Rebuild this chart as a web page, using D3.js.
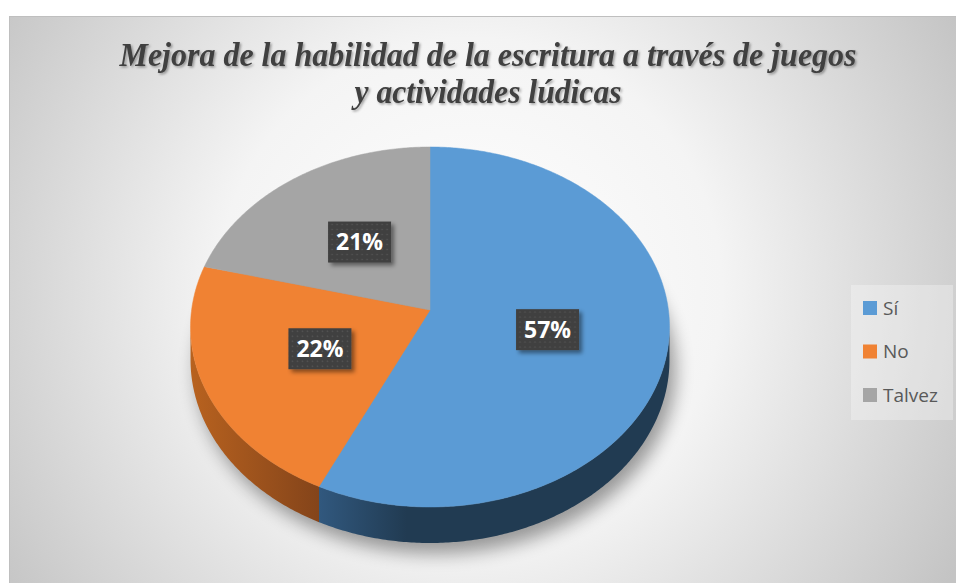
<!DOCTYPE html>
<html>
<head>
<meta charset="utf-8">
<script src="https://cdn.jsdelivr.net/npm/d3@7"></script>
<style>
  html, body { margin: 0; padding: 0; background: #fff; }
  svg { display: block; }
</style>
</head>
<body>
<div id="chart"></div>
<script>
'use strict';

var categories = ['Sí', 'No', 'Talvez'];
var values = [57, 22, 21];
var labels = ['57%', '22%', '21%'];
var titleLines = ['Mejora de la habilidad de la escritura a través de juegos', 'y actividades lúdicas'];
var topColors = ['#5b9bd5', '#f08233', '#a5a5a5'];
var sideColors = [['#31587e', '#213b52'], ['#b8621f', '#84441a'], ['#7c7c7c', '#5c5c5c']];

var width = 956,
    height = 583,
    cx = 430, cy = 310,      // projected centre of the top face
    A = 238.4, B = 178.4,    // half axes before perspective
    p = 0.0944,              // perspective strength
    depth = 32.6;

var svg = d3.select('#chart').append('svg').attr('width', width).attr('height', height);
var defs = svg.append('defs');

// background gradient
var bg = defs.append('radialGradient').attr('id', 'bg')
  .attr('gradientUnits', 'userSpaceOnUse').attr('cx', 470).attr('cy', 290).attr('r', 560);
bg.append('stop').attr('offset', '0%').attr('stop-color', '#ffffff');
bg.append('stop').attr('offset', '45%').attr('stop-color', '#f4f4f4');
bg.append('stop').attr('offset', '100%').attr('stop-color', '#c4c4c4');

var blur = defs.append('filter').attr('id', 'blur').attr('x', '-30%').attr('y', '-30%').attr('width', '160%').attr('height', '160%');
blur.append('feGaussianBlur').attr('stdDeviation', 9);

var tshadow = defs.append('filter').attr('id', 'tshadow');
tshadow.append('feDropShadow').attr('dx', 1.5).attr('dy', 1.5).attr('stdDeviation', 0.8)
  .attr('flood-color', '#000').attr('flood-opacity', 0.35);

var bshadow = defs.append('filter').attr('id', 'bshadow').attr('x', '-20%').attr('y', '-20%').attr('width', '150%').attr('height', '150%');
bshadow.append('feDropShadow').attr('dx', 3).attr('dy', 3).attr('stdDeviation', 2)
  .attr('flood-color', '#000').attr('flood-opacity', 0.45);

var dots = defs.append('pattern').attr('id', 'dots').attr('patternUnits', 'userSpaceOnUse')
  .attr('width', 5).attr('height', 5);
dots.append('rect').attr('width', 5).attr('height', 5).attr('fill', '#404040');
dots.append('circle').attr('cx', 2.5).attr('cy', 2.5).attr('r', 0.8).attr('fill', '#575757');

svg.append('rect').attr('x', 9.5).attr('y', 16.5).attr('width', width).attr('height', height)
  .attr('fill', 'url(#bg)').attr('stroke', '#bfbfbf');

// title
svg.append('g').attr('filter', 'url(#tshadow)')
  .selectAll('text').data(titleLines).enter().append('text')
  .attr('x', 488)
  .attr('y', function (d, i) { return 66 + i * 37; })
  .attr('text-anchor', 'middle')
  .attr('textLength', function (d, i) { return i === 0 ? 737 : 267; })
  .attr('lengthAdjust', 'spacingAndGlyphs')
  .style('font-family', '"Liberation Serif", "Times New Roman", serif')
  .style('font-style', 'italic').style('font-weight', 'bold')
  .style('font-size', '34px').attr('fill', '#404040')
  .text(function (d) { return d; });

// perspective projection of a unit circle point (u right, v towards viewer)
function proj(u, v, drop) {
  var s = 1 / (1 - p * v);
  return [cx + A * u * s, cy + B * v * s + (drop || 0) * s];
}
function onRim(a, drop) {
  return proj(Math.sin(a), -Math.cos(a), drop);
}
function rimPoints(a0, a1, drop) {
  var n = Math.max(2, Math.ceil((a1 - a0) / 0.01)), pts = [], i;
  for (i = 0; i <= n; i++) pts.push(onRim(a0 + (a1 - a0) * i / n, drop));
  return pts;
}

// silhouette angles (extreme x of the rim)
var aRight = 0, aLeft = Math.PI, xr = -Infinity, xl = Infinity;
d3.range(0, Math.PI, 0.001).forEach(function (a) {
  var x = onRim(a)[0];
  if (x > xr) { xr = x; aRight = a; }
});
d3.range(Math.PI, 2 * Math.PI, 0.001).forEach(function (a) {
  var x = onRim(a)[0];
  if (x < xl) { xl = x; aLeft = a; }
});

var pie = d3.pie().sort(null).value(function (d) { return d; });
var arcs = pie(values);
var arcGen = d3.arc().innerRadius(0).outerRadius(1);
var line = d3.line();

// shadow under the pie
var g = svg.append('g');
g.append('path')
  .attr('d', line(rimPoints(0, 2 * Math.PI, depth + 6).map(function (pt) { return [pt[0] + 6, pt[1] + 4]; })) + 'Z')
  .attr('fill', '#000').attr('opacity', 0.38).attr('filter', 'url(#blur)');

// side walls
arcs.forEach(function (d, i) {
  var lo = Math.max(d.startAngle, aRight), hi = Math.min(d.endAngle, aLeft);
  if (hi <= lo) return;
  var top = rimPoints(lo, hi, 0),
      bottom = rimPoints(lo, hi, depth).reverse();
  var xs = top.map(function (pt) { return pt[0]; });
  var grad = defs.append('linearGradient').attr('id', 'side' + i)
    .attr('gradientUnits', 'userSpaceOnUse')
    .attr('x1', d3.min(xs)).attr('x2', d3.max(xs)).attr('y1', 0).attr('y2', 0);
  grad.append('stop').attr('offset', '0%').attr('stop-color', sideColors[i][0]);
  grad.append('stop').attr('offset', i === 0 ? '25%' : '100%').attr('stop-color', sideColors[i][1]);
  g.append('path').attr('d', line(top.concat(bottom)) + 'Z').attr('fill', 'url(#side' + i + ')');
});

// top faces
g.selectAll('path.slice').data(arcs).enter().append('path')
  .attr('class', 'slice')
  .attr('d', function (d) { return line([proj(0, 0)].concat(rimPoints(d.startAngle, d.endAngle, 0))) + 'Z'; })
  .attr('fill', function (d, i) { return topColors[i]; })
  .attr('stroke', function (d, i) { return topColors[i]; }).attr('stroke-width', 0.5);

// data labels
var lab = svg.append('g').selectAll('g').data(arcs).enter().append('g')
  .attr('transform', function (d) {
    var c = arcGen.centroid(d), pt = proj(c[0], c[1]);
    return 'translate(' + pt[0] + ',' + pt[1] + ')';
  });
lab.append('rect').attr('x', -31.5).attr('y', -20.5).attr('width', 63).attr('height', 41)
  .attr('fill', 'url(#dots)').attr('filter', 'url(#bshadow)');
lab.append('text').attr('text-anchor', 'middle').attr('dy', '0.36em')
  .style('font-family', '"Open Sans", sans-serif').style('font-weight', 'bold')
  .style('font-size', '23px').attr('fill', '#fff')
  .text(function (d, i) { return labels[i]; });

// legend
var legend = svg.append('g');
legend.append('rect').attr('x', 851).attr('y', 285).attr('width', 102).attr('height', 135)
  .attr('fill', '#fff').attr('opacity', 0.3);
var items = legend.selectAll('g').data(categories).enter().append('g')
  .attr('transform', function (d, i) { return 'translate(863,' + (301 + i * 43.5) + ')'; });
items.append('rect').attr('width', 14).attr('height', 14)
  .attr('fill', function (d, i) { return topColors[i]; });
items.append('text').attr('x', 20).attr('y', 7).attr('dy', '0.36em')
  .style('font-family', '"Open Sans", sans-serif').style('font-size', '19px')
  .attr('fill', '#595959')
  .text(function (d) { return d; });
</script>
</body>
</html>
